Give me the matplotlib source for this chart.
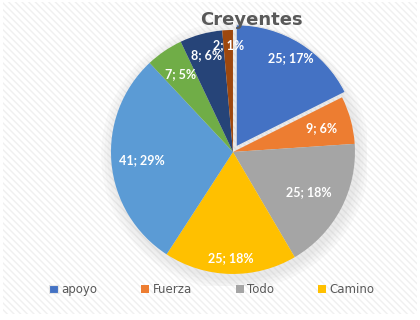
import numpy as np
import matplotlib.pyplot as plt
from matplotlib.patches import Rectangle, Circle

# Data
categories = ['apoyo', 'Fuerza', 'Todo', 'Camino', 'Otros1', 'Otros2', 'Otros3', 'Otros4']
values = [25, 9, 25, 25, 41, 7, 8, 2]
pct_labels = ['17%', '6%', '18%', '18%', '29%', '5%', '6%', '1%']
legend_shown = ['apoyo', 'Fuerza', 'Todo', 'Camino']

colors = ['#4472C4', '#ED7D31', '#A5A5A5', '#FFC000',
          '#5B9BD5', '#70AD47', '#264478', '#9E480E']
text_gray = '#595959'

plt.rcParams['hatch.linewidth'] = 1.0
plt.rcParams['hatch.color'] = '#f0f0f0'

fig = plt.figure(figsize=(4.2, 3.2), dpi=100)

# striped chart background
bg = Rectangle((0.008, 0.02), 0.984, 0.975, transform=fig.transFigure,
               facecolor='white', edgecolor='#f0f0f0', hatch='\\\\\\\\\\', lw=0, zorder=-5)
fig.patches.append(bg)

ax = fig.add_axes([0.2352, 0.1056, 0.639, 0.839])

# soft shadow under the pie
for i in range(4):
    ax.add_patch(Circle((0.02, -0.03), 1.0 + 0.025 * (4 - i), color='#9a9a9a',
                        alpha=0.05, lw=0, zorder=0))

explode = [0.05] + [0] * (len(values) - 1)
wedges, _ = ax.pie(values, colors=colors, startangle=90, counterclock=False,
                   explode=explode, radius=1.0,
                   wedgeprops=dict(linewidth=0))
wedges[0].set_edgecolor('#e6e6e6')
wedges[0].set_linewidth(0.8)

# pie() resets the limits, so set them afterwards
ax.set_xlim(-1.1, 1.1)
ax.set_ylim(-1.1, 1.1)
ax.set_aspect('equal')
ax.axis('off')

# label distance from the centre, per slice (Excel "best fit")
label_r = [0.85, 0.75, 0.7, 0.87, 0.75, 0.77, 0.82, 0.88]
for w, v, p, r in zip(wedges, values, pct_labels, label_r):
    mid = np.deg2rad((w.theta1 + w.theta2) / 2)
    cx, cy = w.center
    ax.text(cx + r * np.cos(mid), cy + r * np.sin(mid), f'{v}; {p}',
            ha='center', va='center', color='white', fontsize=9,
            fontweight='bold', family='Lato')

fig.text(0.598, 0.937, 'Creyentes', ha='center', va='center',
         fontsize=13, fontweight='bold', color=text_gray, family='DejaVu Sans')

handles = [wedges[categories.index(c)] for c in legend_shown]
leg = fig.legend(handles, legend_shown, loc='center', bbox_to_anchor=(0.505, 0.094),
                 ncol=4, frameon=False, fontsize=8.5, handlelength=0.7,
                 handleheight=0.7, handletextpad=0.3, columnspacing=3.7)
for t in leg.get_texts():
    t.set_color(text_gray)

fig.savefig('out.png', dpi=100)
